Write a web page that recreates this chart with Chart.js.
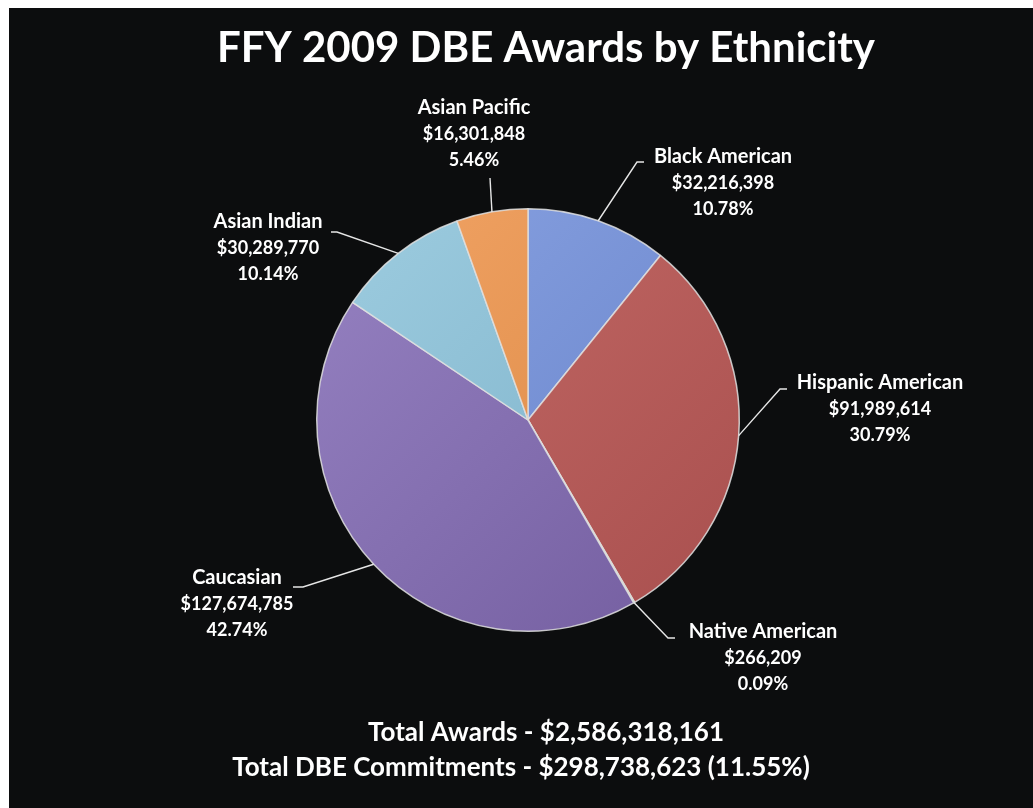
<!DOCTYPE html>
<html>
<head>
<meta charset="utf-8">
<script src="https://cdn.jsdelivr.net/npm/chart.js@4/dist/chart.umd.min.js"></script>
<style>
  html, body { margin: 0; padding: 0; background: #ffffff; }
  canvas { display: block; }
</style>
</head>
<body>
<canvas id="pie" width="1033" height="808"></canvas>
<script>
// chart data
var groups = ["Black American", "Hispanic American", "Native American", "Caucasian", "Asian Indian", "Asian Pacific"]
var amounts = [32216398, 91989614, 266209, 127674785, 30289770, 16301848]
var amountText = ["$32,216,398", "$91,989,614", "$266,209", "$127,674,785", "$30,289,770", "$16,301,848"]
var percentText = ["10.78%", "30.79%", "0.09%", "42.74%", "10.14%", "5.46%"]
var title = "FFY 2009 DBE Awards by Ethnicity"
var footLines = ["Total Awards - $2,586,318,161", "Total DBE Commitments - $298,738,623 (11.55%)"]

// light / dark shade for each slice
var lightCols = ["#8aa3e2", "#c66c68", "#93b862", "#9682c2", "#9ecde0", "#f2a466"]
var darkCols = ["#6480c8", "#a84f4e", "#6f9444", "#725c9e", "#78adc6", "#d8853f"]

// where each label block sits and where its leader line ends
var labelPos = [
  {x: 723, y: 157, lx: 644, ly: 162, kx: 637},
  {x: 880, y: 383, lx: 787, ly: 389, kx: 780},
  {x: 763, y: 632, lx: 675, ly: 638, kx: 668},
  {x: 237, y: 578, lx: 293, ly: 587, kx: 303},
  {x: 268, y: 222, lx: 331, ly: 232, kx: 337},
  {x: 474, y: 108, lx: 490, ly: 178, kx: 490}
]

function sliceFill(context) {
  var chart = context.chart
  var a = chart.chartArea
  if (!a) return lightCols[context.dataIndex]
  var g = chart.ctx.createLinearGradient(a.left, a.top, a.right, a.bottom)
  g.addColorStop(0, lightCols[context.dataIndex])
  g.addColorStop(1, darkCols[context.dataIndex])
  return g
}

var backdrop = {
  id: "backdrop",
  beforeDraw: function(chart) {
    var c = chart.ctx
    c.save()
    c.fillStyle = "#ffffff"
    c.fillRect(0, 0, chart.width, chart.height)
    c.fillStyle = "#0c0d0e"
    c.fillRect(9, 8, chart.width - 9, chart.height - 8)
    c.restore()
  }
}

var texts = {
  id: "texts",
  afterDraw: function(chart) {
    var c = chart.ctx
    var meta = chart.getDatasetMeta(0)
    c.save()
    c.fillStyle = "#ffffff"
    c.textAlign = "center"
    c.textBaseline = "middle"

    c.font = "bold 42px Lato"
    c.fillText(title, 546, 48)

    c.font = "bold 26px Lato"
    c.fillText(footLines[0], 546, 733)
    c.fillText(footLines[1], 521, 768)

    // slice labels + leaders
    c.strokeStyle = "#e6e6e6"
    c.lineWidth = 1.4
    meta.data.forEach(function(arc, i) {
      var p = labelPos[i]
      var mid = (arc.startAngle + arc.endAngle) / 2
      var ex = arc.x + Math.cos(mid) * arc.outerRadius
      var ey = arc.y + Math.sin(mid) * arc.outerRadius
      c.beginPath()
      c.moveTo(ex, ey)
      c.lineTo(p.kx, p.ly)
      c.lineTo(p.lx, p.ly)
      c.stroke()

      c.font = "bold 20px Lato"
      c.fillText(groups[i], p.x, p.y)
      c.font = "bold 18px Lato"
      c.fillText(amountText[i], p.x, p.y + 26)
      c.fillText(percentText[i], p.x, p.y + 52)
    })
    c.restore()
  }
}

ctx = document.getElementById("pie").getContext("2d")

var pie = new Chart(ctx, {
  type: "pie",
  data: {
    labels: groups,
    datasets: [
      {
        data: amounts,
        backgroundColor: sliceFill,
        borderColor: "rgba(225,225,225,0.85)",
        borderWidth: 1.5
      }
    ]
  },
  options: {
    responsive: false,
    animation: false,
    devicePixelRatio: 1,
    layout: {
      padding: {top: 208, bottom: 176, left: 316, right: 293}
    },
    plugins: {
      legend: {display: false},
      tooltip: {enabled: false}
    }
  },
  plugins: [backdrop, texts]
})
</script>
</body>
</html>
